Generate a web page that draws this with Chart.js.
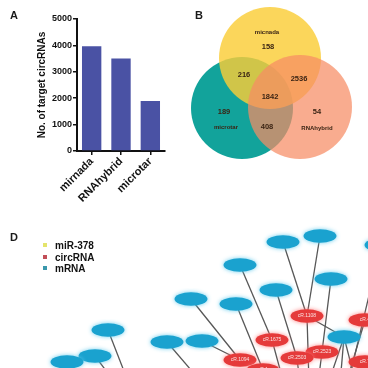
<!DOCTYPE html>
<html>
<head>
<meta charset="utf-8">
<script src="https://cdn.jsdelivr.net/npm/chart.js@4.4.1/dist/chart.umd.min.js"></script>
<style>
    html, body { margin: 0; padding: 0; background: #fff; }
    #page { position: relative; width: 368px; height: 368px; overflow: hidden; font-family: Arial, "Liberation Sans", sans-serif; }
    canvas { position: absolute; }
    .tag { position: absolute; font-size: 11px; font-weight: bold; color: #1a1a1a; line-height: 1; }
    .legend { position: absolute; left: 43px; top: 240px; font-size: 10px; font-weight: bold; color: #111; line-height: 11.5px; }
    .legend span { display: inline-block; width: 4px; height: 4px; margin-right: 8px; vertical-align: 2px; }
</style>
</head>
<body>
<div id="page">
    <canvas id="networkChart" width="368" height="184" style="left:0;top:184px"></canvas>
    <canvas id="barChart" width="184" height="210" style="left:0;top:0"></canvas>
    <canvas id="vennChart" width="184" height="184" style="left:184px;top:0"></canvas>
    <div class="tag" style="left:10px;top:10px">A</div>
    <div class="tag" style="left:195px;top:10px">B</div>
    <div class="tag" style="left:10px;top:232px">D</div>
    <div class="legend">
        <div><span style="background:#e4e46c"></span>miR-378</div>
        <div><span style="background:#c24e58"></span>circRNA</div>
        <div><span style="background:#3a98ac"></span>mRNA</div>
    </div>
</div>
<script>
// Panel A: number of target circRNAs per prediction tool
const tools = ['mirnada', 'RNAhybrid', 'microtar'];
const targetCounts = [3970, 3500, 1890];
const countTicks = [0, 1000, 2000, 3000, 4000, 5000];

// Panel B: Venn region counts
const vennSets = ['microtar', 'micnada', 'RNAhybrid'];
const vennCounts = [158, 216, 2536, 1842, 189, 408, 54];

// Panel D: network nodes and edges
const mrnaIds = ['m1', 'm2', 'm3', 'm4', 'm5', 'm6', 'm7', 'm8', 'm9', 'm10', 'm11', 'm12', 'm13', 'm14'];
const circIds = ['c1', 'c2', 'c3', 'c4', 'c5', 'c6', 'c7', 'c8'];
const circLabels = ['cR.1108', 'cR.4', 'cR.1675', 'cR.2523', 'cR.2503', 'cR.1094', 'cR.7', 'cR.1'];
const edges = [
    ['m7', 'c6'], ['m1', 'c1'], ['m2', 'c1'], ['m4', 'c3'], ['m8', 'c8'], ['m6', 'c5'],
    ['m5', 'c4'], ['c1', 'm9'], ['c1', 'o1'], ['m10', 'c6'], ['m11', 'o11'], ['m12', 'o9'],
    ['m13', 'o10'], ['m9', 'o4'], ['m9', 'o5'], ['m9', 'o6'], ['c2', 'o7'], ['m3', 'o8'],
    ['c4', 'o2'], ['c5', 'o3'], ['c3', 'o12']
];

// layout (venn circles, label spots, network positions)
const vennCircles = [[58, 108, 51], [86, 58, 51], [116, 107, 52]];
const vennColors = ['rgba(18,163,155,1)', 'rgba(250,205,55,0.82)', 'rgba(246,140,100,0.72)'];
const vennNameSpots = [[42, 127], [83, 32], [133, 128]];
const vennCountSpots = [[84, 47], [60, 75], [115, 79], [86, 97], [40, 112], [83, 127], [133, 112]];
const nodeXY = {
    m1: [283, 58], m2: [320, 52], m3: [381, 61], m4: [240, 81], m5: [331, 95], m6: [276, 106],
    m7: [191, 115], m8: [236, 120], m9: [344, 153], m10: [202, 157], m11: [167, 158],
    m12: [108, 146], m13: [95, 172], m14: [67, 178],
    c1: [307, 132], c2: [365, 136], c3: [272, 156], c4: [322, 168], c5: [297, 174],
    c6: [240, 176], c7: [365, 178], c8: [263, 186],
    o1: [309, 200], o2: [318, 200], o3: [300, 200], o4: [328, 200], o5: [340, 200], o6: [356, 200],
    o7: [346, 200], o8: [348, 200], o9: [129, 200], o10: [116, 200], o11: [203, 200], o12: [284, 200]
};

const pt = id => ({ x: nodeXY[id][0], y: nodeXY[id][1] });
const axisFont = { family: 'Arial', weight: 'bold' };

// Render bar chart (A)
function renderBarChart() {
    const ctx = document.getElementById('barChart').getContext('2d');
    new Chart(ctx, {
        type: 'bar',
        data: {
            labels: tools,
            datasets: [{
                data: targetCounts,
                backgroundColor: '#4a52a4',
                barPercentage: 0.66,
                categoryPercentage: 1
            }]
        },
        options: {
            responsive: false,
            animation: false,
            events: [],
            layout: { padding: { top: 19, right: 19, left: 0, bottom: 0 } },
            plugins: { legend: { display: false }, tooltip: { enabled: false } },
            scales: {
                x: {
                    border: { color: '#111', width: 2 },
                    grid: { drawOnChartArea: false, offset: false, tickLength: 4, color: '#111', lineWidth: 1.5 },
                    ticks: { color: '#111', font: { ...axisFont, size: 11 }, maxRotation: 45, minRotation: 45, padding: 0 },
                    afterFit: scale => { scale.height = 59; }
                },
                y: {
                    min: 0,
                    max: 5000,
                    afterBuildTicks: scale => { scale.ticks = countTicks.map(v => ({ value: v })); },
                    border: { color: '#111', width: 2 },
                    grid: { drawOnChartArea: false, tickLength: 4, color: '#111', lineWidth: 1.5 },
                    ticks: {
                        color: '#111',
                        font: { ...axisFont, size: 9 },
                        padding: 1,
                        callback: function (value) {
                            return String(value);
                        }
                    },
                    title: {
                        display: true,
                        text: 'No. of target circRNAs',
                        color: '#111',
                        font: { ...axisFont, size: 10 },
                        padding: { top: 36, bottom: 0 }
                    },
                    afterFit: scale => { scale.width = 77; }
                }
            }
        }
    });
}

// Venn text labels
const vennText = {
    id: 'vennText',
    afterDatasetsDraw(chart) {
        const { ctx, scales: { x, y } } = chart;
        ctx.save();
        ctx.fillStyle = '#3a2414';
        ctx.textAlign = 'center';
        ctx.textBaseline = 'middle';
        ctx.font = 'bold 7.5px Arial';
        vennCounts.forEach((n, i) => {
            ctx.fillText(n, x.getPixelForValue(vennCountSpots[i][0]), y.getPixelForValue(vennCountSpots[i][1]));
        });
        ctx.font = 'bold 6px Arial';
        vennSets.forEach((name, i) => {
            ctx.fillText(name, x.getPixelForValue(vennNameSpots[i][0]), y.getPixelForValue(vennNameSpots[i][1]));
        });
        ctx.restore();
    }
};

// Render venn diagram (B)
function renderVennChart() {
    const ctx = document.getElementById('vennChart').getContext('2d');
    new Chart(ctx, {
        type: 'bubble',
        data: {
            datasets: [{
                data: vennCircles.map(([x, y, r]) => ({ x, y, r })),
                backgroundColor: vennColors,
                borderWidth: 0,
                clip: false
            }]
        },
        options: {
            responsive: false,
            animation: false,
            events: [],
            layout: { padding: 0, autoPadding: false },
            plugins: { legend: { display: false }, tooltip: { enabled: false } },
            scales: {
                x: { display: false, min: 0, max: 184 },
                y: { display: false, min: 0, max: 184, reverse: true }
            }
        },
        plugins: [vennText]
    });
}

function makeNodeImage(fill, glow) {
    const c = document.createElement('canvas');
    c.width = 42;
    c.height = 22;
    const g = c.getContext('2d');
    g.shadowColor = glow;
    g.shadowBlur = 4;
    g.fillStyle = fill;
    g.beginPath();
    g.ellipse(21, 11, 16.5, 6.8, 0, 0, Math.PI * 2);
    g.fill();
    return c;
}

// circRNA node labels
const nodeText = {
    id: 'nodeText',
    afterDatasetsDraw(chart) {
        const { ctx, scales: { x, y } } = chart;
        ctx.save();
        ctx.fillStyle = 'rgba(255,255,255,0.85)';
        ctx.textAlign = 'center';
        ctx.textBaseline = 'middle';
        ctx.font = '5px Arial';
        circIds.forEach((id, i) => {
            ctx.fillText(circLabels[i], x.getPixelForValue(nodeXY[id][0]), y.getPixelForValue(nodeXY[id][1]));
        });
        ctx.restore();
    }
};

// Render network (D)
function renderNetwork() {
    const ctx = document.getElementById('networkChart').getContext('2d');
    const edgeSets = edges.map(([a, b]) => ({
        data: [pt(a), pt(b)],
        showLine: true,
        borderColor: '#575757',
        borderWidth: 1.3,
        pointRadius: 0,
        order: 2
    }));

    new Chart(ctx, {
        type: 'scatter',
        data: {
            datasets: [
                {
                    label: 'circRNA',
                    data: circIds.map(pt),
                    pointStyle: makeNodeImage('#e53a3a', 'rgba(255,120,120,0.9)'),
                    pointRadius: 20,
                    clip: false,
                    order: 0
                },
                {
                    label: 'mRNA',
                    data: mrnaIds.map(pt),
                    pointStyle: makeNodeImage('#1aa2cf', 'rgba(90,200,235,0.9)'),
                    pointRadius: 20,
                    clip: false,
                    order: 1
                },
                ...edgeSets
            ]
        },
        options: {
            responsive: false,
            animation: false,
            events: [],
            layout: { padding: 0, autoPadding: false },
            plugins: { legend: { display: false }, tooltip: { enabled: false } },
            scales: {
                x: { display: false, min: 0, max: 368 },
                y: { display: false, min: 0, max: 184, reverse: true }
            }
        },
        plugins: [nodeText]
    });
}

renderBarChart();
renderVennChart();
renderNetwork();
</script>
</body>
</html>
